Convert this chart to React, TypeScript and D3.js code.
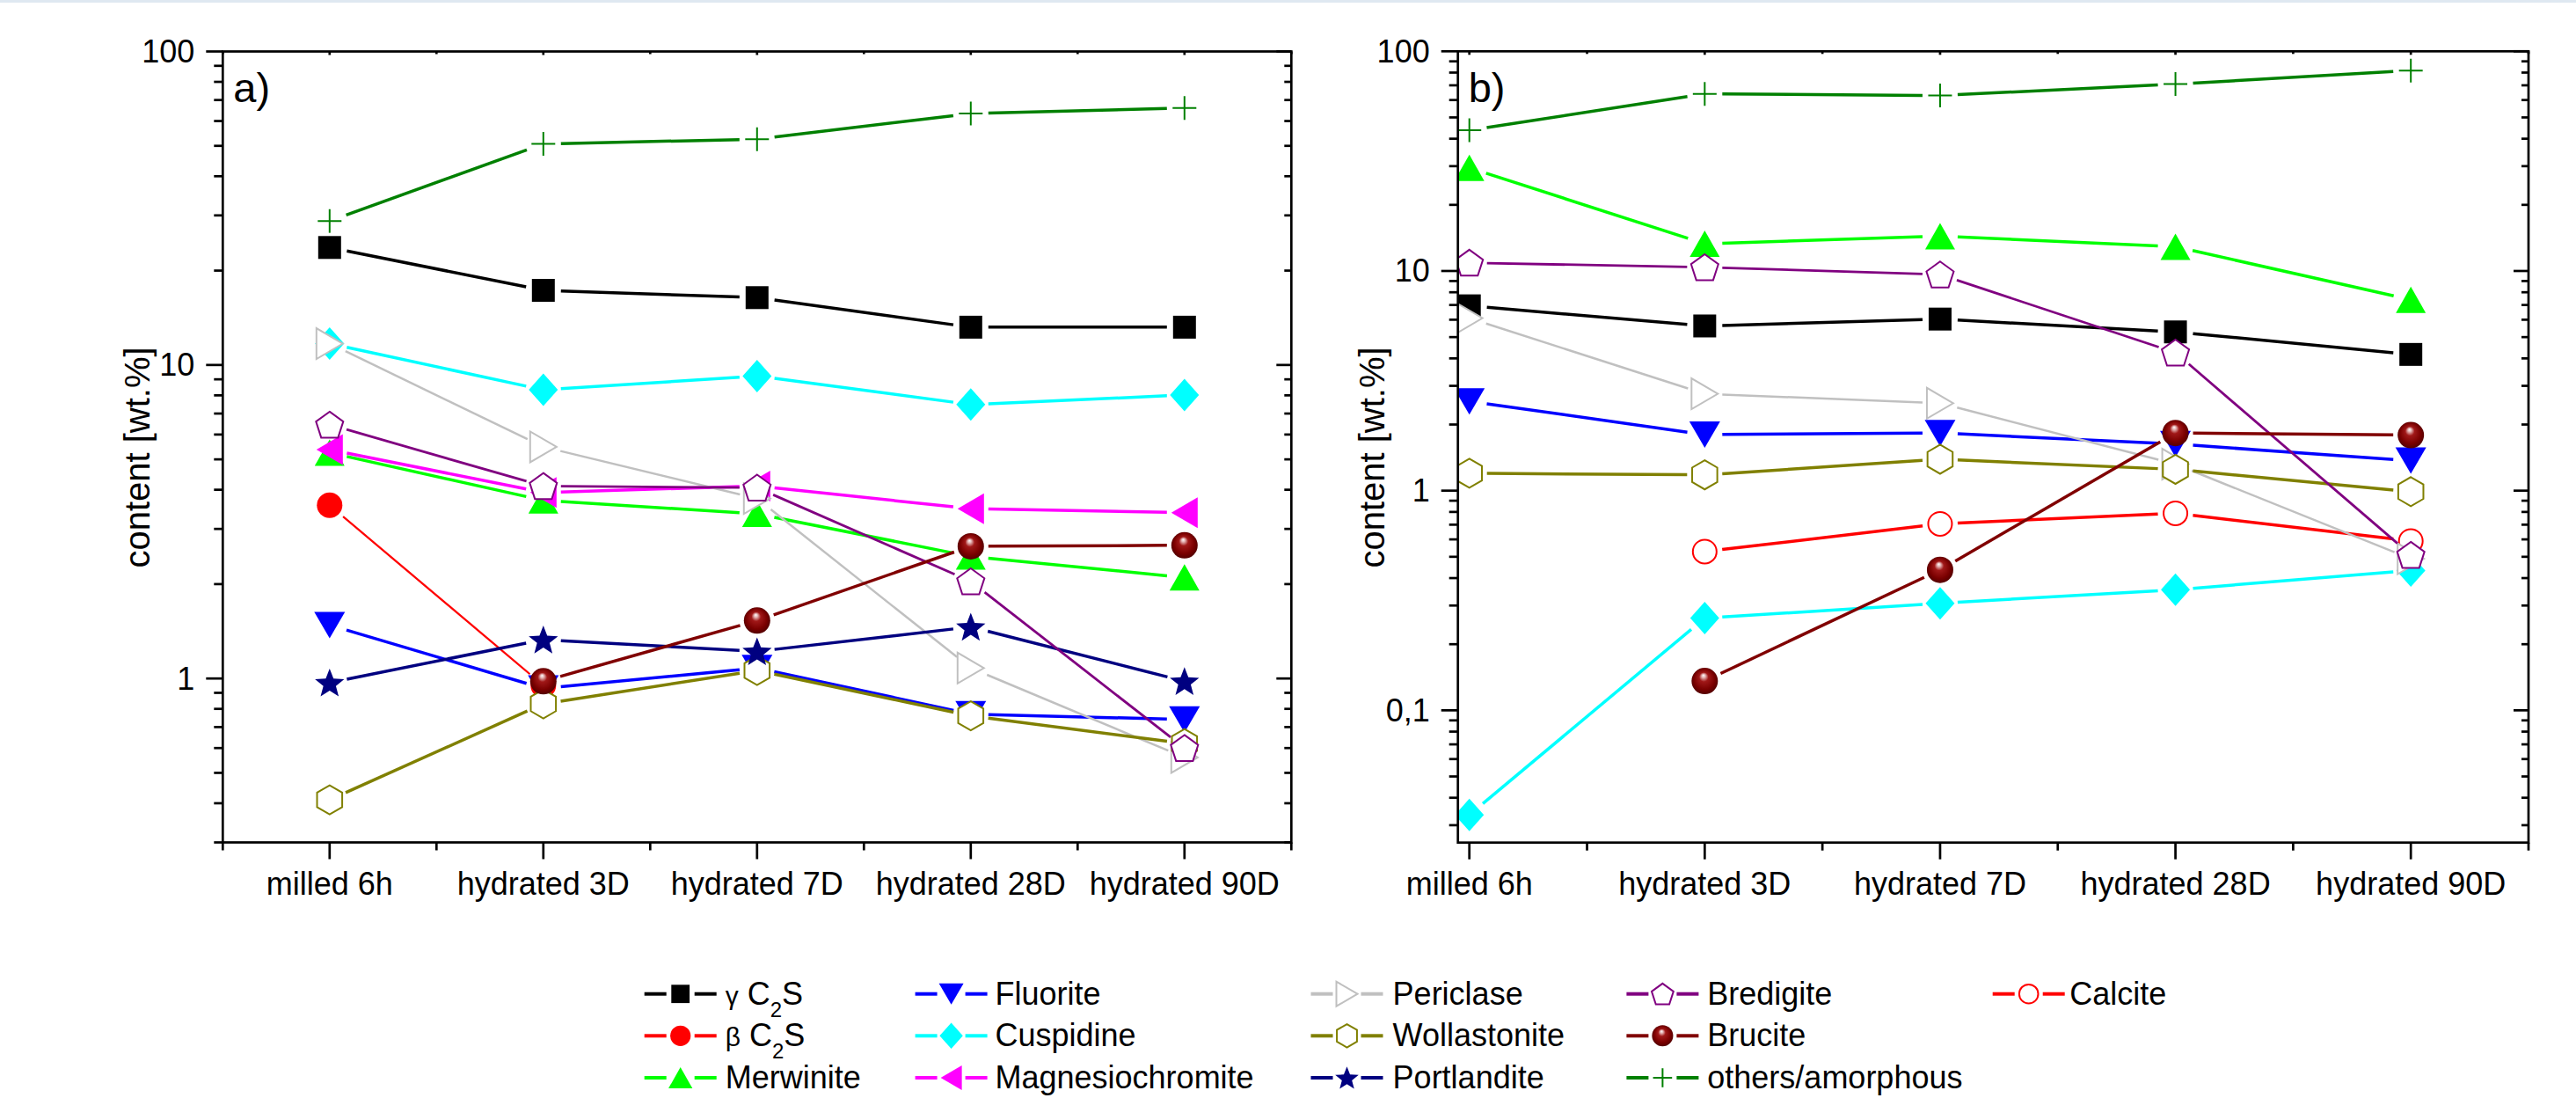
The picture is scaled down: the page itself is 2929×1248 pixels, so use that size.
import React from "react";
import * as d3 from "d3";

type Val = number | null;

const categories = ["milled 6h", "hydrated 3D", "hydrated 7D", "hydrated 28D", "hydrated 90D"];

// ---- panel a) values [wt.%]
const gammaC2S_a: Val[] = [23.7, 17.3, 16.4, 13.2, 13.2];
const betaC2S_a: Val[] = [3.57, 0.95, null, null, null];
const merwinite_a: Val[] = [5.25, 3.7, 3.35, 2.45, 2.1];
const fluorite_a: Val[] = [1.48, 0.93, 1.08, 0.77, 0.74];
const cuspidine_a: Val[] = [11.7, 8.33, 9.22, 7.48, 8.02];
const magnesiochromite_a: Val[] = [5.37, 3.92, 4.11, 3.48, 3.38];
const periclase_a: Val[] = [11.7, 5.48, 3.75, 1.08, 0.56];
const wollastonite_a: Val[] = [0.41, 0.83, 1.06, 0.76, 0.62];
const portlandite_a: Val[] = [0.97, 1.33, 1.22, 1.46, 0.98];
const bredigite_a: Val[] = [6.45, 4.11, 4.06, 2.04, 0.6];
const brucite_a: Val[] = [null, 0.98, 1.53, 2.64, 2.66];
const others_a: Val[] = [28.8, 50.7, 52.5, 63.4, 66.0];
const calcite_a: Val[] = [null, null, null, null, null];

// ---- panel b) values [wt.%]
const gammaC2S_b: Val[] = [6.94, 5.62, 6.04, 5.28, 4.17];
const betaC2S_b: Val[] = [null, null, null, null, null];
const merwinite_b: Val[] = [29.5, 13.3, 14.4, 12.9, 7.4];
const fluorite_b: Val[] = [2.55, 1.8, 1.83, 1.63, 1.37];
const cuspidine_b: Val[] = [0.0334, 0.263, 0.307, 0.354, 0.433];
const magnesiochromite_b: Val[] = [null, null, null, null, null];
const periclase_b: Val[] = [6.1, 2.76, 2.5, 1.32, 0.49];
const wollastonite_b: Val[] = [1.2, 1.18, 1.39, 1.25, 0.99];
const portlandite_b: Val[] = [null, null, null, null, null];
const bredigite_b: Val[] = [10.9, 10.4, 9.63, 4.25, 0.51];
const brucite_b: Val[] = [null, 0.136, 0.436, 1.83, 1.79];
const others_b: Val[] = [43.7, 64.0, 62.9, 70.9, 81.7];
const calcite_b: Val[] = [null, 0.528, 0.706, 0.789, 0.59];

// ---- axis ticks
const yTickValuesA = [1, 10, 100];
const yTickLabelsA = ["1", "10", "100"];
const yTickValuesB = [0.1, 1, 10, 100];
const yTickLabelsB = ["0,1", "1", "10", "100"];
const yAxisTitle = "content [wt.%]";

const valuesA: Record<string, Val[]> = {
  "γ C2S": gammaC2S_a, "β C2S": betaC2S_a, Merwinite: merwinite_a, Fluorite: fluorite_a,
  Cuspidine: cuspidine_a, Magnesiochromite: magnesiochromite_a, Periclase: periclase_a,
  Wollastonite: wollastonite_a, Portlandite: portlandite_a, Bredigite: bredigite_a,
  Brucite: brucite_a, "others/amorphous": others_a, Calcite: calcite_a,
};
const valuesB: Record<string, Val[]> = {
  "γ C2S": gammaC2S_b, "β C2S": betaC2S_b, Merwinite: merwinite_b, Fluorite: fluorite_b,
  Cuspidine: cuspidine_b, Magnesiochromite: magnesiochromite_b, Periclase: periclase_b,
  Wollastonite: wollastonite_b, Portlandite: portlandite_b, Bredigite: bredigite_b,
  Brucite: brucite_b, "others/amorphous": others_b, Calcite: calcite_b,
};

type Kind = "square" | "circle" | "openCircle" | "triUp" | "triDown" | "triLeft" | "triRight" |
  "diamond" | "hexagon" | "pentagon" | "star" | "ball" | "plus";

const styles: Record<string, { color: string; marker: Kind; lw: number }> = {
  "γ C2S": { color: "#000000", marker: "square", lw: 3.5 },
  "β C2S": { color: "#FF0000", marker: "circle", lw: 2.2 },
  Merwinite: { color: "#00FF00", marker: "triUp", lw: 3.5 },
  Fluorite: { color: "#0000FF", marker: "triDown", lw: 3.5 },
  Cuspidine: { color: "#00FFFF", marker: "diamond", lw: 3.5 },
  Magnesiochromite: { color: "#FF00FF", marker: "triLeft", lw: 3.5 },
  Periclase: { color: "#C0C0C0", marker: "triRight", lw: 2.5 },
  Wollastonite: { color: "#808000", marker: "hexagon", lw: 3.5 },
  Portlandite: { color: "#000080", marker: "star", lw: 3.5 },
  Bredigite: { color: "#800080", marker: "pentagon", lw: 2.8 },
  Brucite: { color: "#800000", marker: "ball", lw: 3.5 },
  "others/amorphous": { color: "#008000", marker: "plus", lw: 3.5 },
  Calcite: { color: "#FF0000", marker: "openCircle", lw: 3.5 },
};

const drawOrder = [
  "γ C2S", "β C2S", "Calcite", "Merwinite", "Fluorite", "Cuspidine", "Magnesiochromite",
  "Periclase", "Wollastonite", "Portlandite", "Bredigite", "Brucite", "others/amorphous",
];

const legendColumns = [
  ["γ C2S", "β C2S", "Merwinite"],
  ["Fluorite", "Cuspidine", "Magnesiochromite"],
  ["Periclase", "Wollastonite", "Portlandite"],
  ["Bredigite", "Brucite", "others/amorphous"],
  ["Calcite"],
];

const FONT = '"Liberation Sans", Arial, Helvetica, sans-serif';
const W = 2929;
const H = 1248;
const GAP = 20;

function poly(pts: [number, number][], x: number, y: number, s: number) {
  return pts.map(([px, py], i) => `${i ? "L" : "M"}${x + px * s},${y + py * s}`).join("") + "Z";
}

function regular(n: number, R: number, startDeg: number): [number, number][] {
  const out: [number, number][] = [];
  for (let k = 0; k < n; k++) {
    const a = ((startDeg + (360 / n) * k) * Math.PI) / 180;
    out.push([R * Math.cos(a), R * Math.sin(a)]);
  }
  return out;
}

function starPts(Ro: number, Ri: number): [number, number][] {
  const out: [number, number][] = [];
  for (let k = 0; k < 10; k++) {
    const r = k % 2 === 0 ? Ro : Ri;
    const a = ((-90 + 36 * k) * Math.PI) / 180;
    out.push([r * Math.cos(a), r * Math.sin(a)]);
  }
  return out;
}

function Marker({ kind, color, x, y, s = 1 }: { kind: Kind; color: string; x: number; y: number; s?: number }) {
  const sw = 2;
  switch (kind) {
    case "square":
      return <rect x={x - 13 * s} y={y - 13 * s} width={26 * s} height={26 * s} fill={color} />;
    case "circle":
      return <circle cx={x} cy={y} r={14.5 * s} fill={color} />;
    case "openCircle":
      return <circle cx={x} cy={y} r={13.5 * s} fill="#FFFFFF" stroke={color} strokeWidth={sw} />;
    case "triUp":
      return <path d={poly([[0, -15], [17, 15], [-17, 15]], x, y, s)} fill={color} />;
    case "triDown":
      return <path d={poly([[0, 15], [17.5, -15], [-17.5, -15]], x, y, s)} fill={color} />;
    case "triLeft":
      return <path d={poly([[-15, 0], [15, -17.5], [15, 17.5]], x, y, s)} fill={color} />;
    case "triRight":
      return <path d={poly([[15, 0], [-15, -17.5], [-15, 17.5]], x, y, s)} fill="#FFFFFF" stroke={color} strokeWidth={sw} />;
    case "diamond":
      return <path d={poly([[0, -18.5], [16.5, 0], [0, 18.5], [-16.5, 0]], x, y, s)} fill={color} />;
    case "hexagon":
      return <path d={poly(regular(6, 16.5, -90), x, y, s)} fill="#FFFFFF" stroke={color} strokeWidth={sw} />;
    case "pentagon":
      return <path d={poly(regular(5, 16.3, -90).map(([a, b]) => [a, b + 1.5] as [number, number]), x, y, s)} fill="#FFFFFF" stroke={color} strokeWidth={sw} />;
    case "star":
      return <path d={poly(starPts(17.5, 7.5), x, y + 1.5 * s, s)} fill={color} />;
    case "ball":
      return <circle cx={x} cy={y} r={15 * s} fill="url(#ballGrad)" />;
    case "plus":
      return (
        <g stroke={color} strokeWidth={sw}>
          <line x1={x - 13.5 * s} x2={x + 13.5 * s} y1={y} y2={y} />
          <line x1={x} x2={x} y1={y - 13.5 * s} y2={y + 13.5 * s} />
        </g>
      );
  }
  return null;
}

interface PanelCfg {
  id: string;
  label: string;
  left: number;
  right: number;
  top: number;
  bottom: number;
  xDomain: [number, number];
  yDomain: [number, number];
  yTickValues: number[];
  yTickLabels: string[];
  values: Record<string, Val[]>;
  titleX: number;
}

const panels: PanelCfg[] = [
  {
    id: "a", label: "a)", left: 253.3, right: 1468.3, top: 58.5, bottom: 957.5,
    xDomain: [0.5, 5.5], yDomain: [0.3, 100], yTickValues: yTickValuesA, yTickLabels: yTickLabelsA,
    values: valuesA, titleX: 170,
  },
  {
    id: "b", label: "b)", left: 1657.7, right: 2875, top: 58.3, bottom: 957.7,
    xDomain: [0.9514, 5.5], yDomain: [0.025, 100], yTickValues: yTickValuesB, yTickLabels: yTickLabelsB,
    values: valuesB, titleX: 1574,
  },
];

function Panel({ cfg }: { cfg: PanelCfg }) {
  const x = d3.scaleLinear().domain(cfg.xDomain).range([cfg.left, cfg.right]);
  const y = d3.scaleLog().domain(cfg.yDomain).range([cfg.bottom, cfg.top]);
  const line = d3.line<[number, number]>();
  const clipId = `clip-${cfg.id}`;

  const yAll = y.ticks();
  const isMajor = (v: number) => Math.abs(Math.log10(v) - Math.round(Math.log10(v))) < 1e-6;
  const yMinor = yAll.filter((v) => !isMajor(v));
  const xMajor = categories.map((_, i) => i + 1);
  const xMinor = d3.range(0.5, 6, 1).filter((v) => v >= cfg.xDomain[0] - 1e-6 && v <= cfg.xDomain[1] + 1e-6);

  const axisW = 2.7;

  const seriesEls = drawOrder.map((name) => {
    const st = styles[name];
    const vals = cfg.values[name];
    const pts: ([number, number] | null)[] = vals.map((v, i) => (v == null ? null : [x(i + 1), y(v)]));
    const segs: [number, number][][] = [];
    for (let i = 0; i < pts.length - 1; i++) {
      const a = pts[i];
      const b = pts[i + 1];
      if (!a || !b) continue;
      const dx = b[0] - a[0];
      const dy = b[1] - a[1];
      const len = Math.hypot(dx, dy);
      if (len <= 2 * GAP) continue;
      const ux = dx / len;
      const uy = dy / len;
      segs.push([
        [a[0] + ux * GAP, a[1] + uy * GAP],
        [b[0] - ux * GAP, b[1] - uy * GAP],
      ]);
    }
    return (
      <g key={name}>
        {segs.map((sg, k) => (
          <path key={k} d={line(sg) || ""} fill="none" stroke={st.color} strokeWidth={st.lw} strokeLinecap="butt" />
        ))}
        {pts.map((p, k) => (p ? <Marker key={`m${k}`} kind={st.marker} color={st.color} x={p[0]} y={p[1]} /> : null))}
      </g>
    );
  });

  return (
    <g>
      <defs>
        <clipPath id={clipId}>
          <rect x={cfg.left} y={cfg.top} width={cfg.right - cfg.left} height={cfg.bottom - cfg.top} />
        </clipPath>
      </defs>
      <g clipPath={`url(#${clipId})`}>{seriesEls}</g>

      <rect x={cfg.left} y={cfg.top} width={cfg.right - cfg.left} height={cfg.bottom - cfg.top} fill="none" stroke="#000" strokeWidth={axisW} />

      <g stroke="#000" strokeWidth={axisW}>
        {cfg.yTickValues.map((v) => (
          <g key={`ym${v}`}>
            <line x1={cfg.left - 19} x2={cfg.left} y1={y(v)} y2={y(v)} />
            <line x1={cfg.right - 17} x2={cfg.right} y1={y(v)} y2={y(v)} />
          </g>
        ))}
        {yMinor.map((v) => (
          <g key={`yn${v}`}>
            <line x1={cfg.left - 10} x2={cfg.left} y1={y(v)} y2={y(v)} />
            <line x1={cfg.right - 8} x2={cfg.right} y1={y(v)} y2={y(v)} />
          </g>
        ))}
        {xMajor.map((v) => (
          <g key={`xm${v}`}>
            <line x1={x(v)} x2={x(v)} y1={cfg.bottom} y2={cfg.bottom + 19} />
            <line x1={x(v)} x2={x(v)} y1={cfg.top} y2={cfg.top + 4} />
          </g>
        ))}
        {xMinor.map((v) => (
          <g key={`xn${v}`}>
            <line x1={x(v)} x2={x(v)} y1={cfg.bottom} y2={cfg.bottom + 9} />
            <line x1={x(v)} x2={x(v)} y1={cfg.top} y2={cfg.top + 3} />
          </g>
        ))}
      </g>

      <g fontFamily={FONT} fontSize={36} fill="#000">
        {cfg.yTickValues.map((v, i) => (
          <text key={`yl${v}`} x={cfg.left - 32} y={y(v)} textAnchor="end" dominantBaseline="central">
            {cfg.yTickLabels[i]}
          </text>
        ))}
        {categories.map((c, i) => (
          <text key={c} x={x(i + 1)} y={1017} textAnchor="middle">
            {c}
          </text>
        ))}
      </g>

      <text
        transform={`translate(${cfg.titleX},${(cfg.top + cfg.bottom) / 2 + 12}) rotate(-90)`}
        textAnchor="middle"
        fontFamily={FONT}
        fontSize={40}
        fill="#000"
      >
        {yAxisTitle}
      </text>

      <text x={cfg.left + 12} y={116} fontFamily={FONT} fontSize={47} fill="#000">
        {cfg.label}
      </text>
    </g>
  );
}

function LegendLabel({ name, x, y }: { name: string; x: number; y: number }) {
  if (name.endsWith("C2S")) {
    const greek = name.charAt(0);
    return (
      <text x={x} y={y} fontFamily={FONT} fontSize={36} fill="#000">
        <tspan fontSize={30}>{greek}</tspan>
        <tspan> C</tspan>
        <tspan fontSize={24} dy={14}>2</tspan>
        <tspan dy={-14}>S</tspan>
      </text>
    );
  }
  return (
    <text x={x} y={y} fontFamily={FONT} fontSize={36} fill="#000">
      {name}
    </text>
  );
}

function Legend() {
  const colMarkerX = [773.7, 1081.6, 1531.5, 1890.4, 2306.7];
  const colTextX = [824.7, 1131.5, 1583.6, 1941.3, 2353.3];
  const rowBase = [1141.7, 1189.3, 1237];
  const half = 41;
  const inner = 16;
  return (
    <g>
      {legendColumns.map((col, ci) =>
        col.map((name, ri) => {
          const st = styles[name];
          const cx = colMarkerX[ci];
          const ly = rowBase[ri] - 12;
          return (
            <g key={name}>
              <line x1={cx - half} x2={cx - inner} y1={ly} y2={ly} stroke={st.color} strokeWidth={4} />
              <line x1={cx + inner} x2={cx + half} y1={ly} y2={ly} stroke={st.color} strokeWidth={4} />
              <Marker kind={st.marker} color={st.color} x={cx} y={ly} s={0.8} />
              <LegendLabel name={name} x={colTextX[ci]} y={rowBase[ri]} />
            </g>
          );
        })
      )}
    </g>
  );
}

export default function App() {
  return (
    <svg
      width={W}
      height={H}
      viewBox={`0 0 ${W} ${H}`}
      style={{ position: "absolute", left: 0, top: 0, display: "block", background: "#FFFFFF" }}
    >
      <defs>
        <radialGradient id="ballGrad" cx="50%" cy="50%" r="55%" fx="45%" fy="28%">
          <stop offset="0%" stopColor="#FFFFFF" />
          <stop offset="12%" stopColor="#E6B8B8" />
          <stop offset="32%" stopColor="#A01818" />
          <stop offset="70%" stopColor="#7A0000" />
          <stop offset="100%" stopColor="#4A0000" />
        </radialGradient>
      </defs>
      <rect x={0} y={0} width={W} height={H} fill="#FFFFFF" />
      <rect x={0} y={0} width={W} height={3} fill="#DFE8F1" />
      {panels.map((p) => (
        <Panel key={p.id} cfg={p} />
      ))}
      <Legend />
    </svg>
  );
}
